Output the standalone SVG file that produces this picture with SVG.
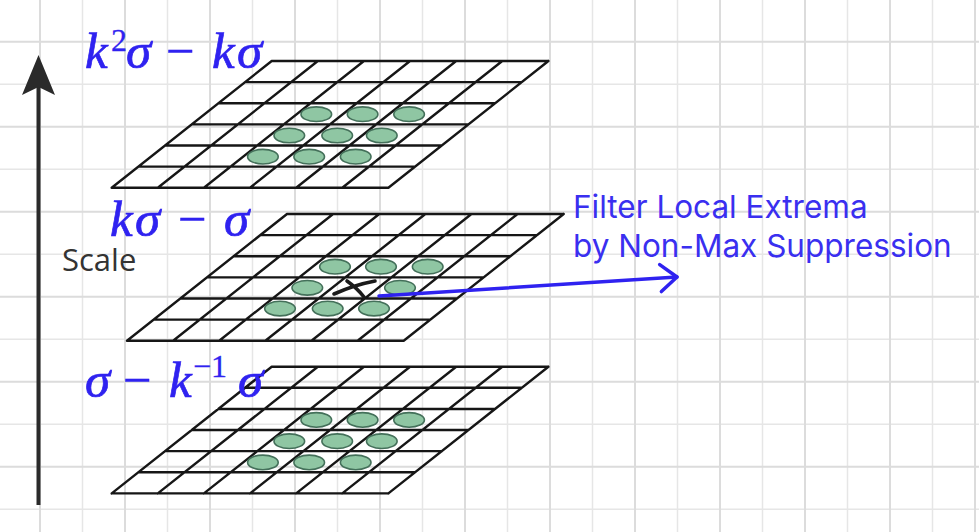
<svg xmlns="http://www.w3.org/2000/svg" xmlns:xlink="http://www.w3.org/1999/xlink" width="979" height="532" viewBox="0 0 979 532">
<style>
.bg{stroke:#e6e6e6;stroke-width:1.5;fill:none}
.bgm{stroke:#dcdcdc;stroke-width:2;fill:none}
.gl{stroke:#161616;stroke-width:2.4;fill:none;stroke-linecap:round}
.dot{fill:#8fc6a3;stroke:#44705a;stroke-width:1.6}
.math{font-family:"Liberation Serif",serif;font-style:italic;fill:#2f22f0;stroke:#2f22f0;stroke-width:0.7;font-size:51px}
.up{font-style:normal;stroke-width:0.3}
.lbl{font-family:Inter,"Liberation Sans",sans-serif;fill:#3a2ff0;font-size:31.5px}
.scale{font-family:"Open Sans","Liberation Sans",sans-serif;fill:#333333;font-size:31px}
.conn{stroke:#2f22f0;stroke-width:3.5;fill:none;stroke-linecap:round;stroke-linejoin:round}
</style>
<defs>
<g id="grid">
<path class="gl" d="M0,0H276.7 M-26.67,21.12H250.03 M-53.33,42.23H223.37 M-80,63.35H196.7 M-106.67,84.47H170.03 M-133.33,105.58H143.37 M-160,126.7H116.7 M0,0L-160,126.7 M46.12,0L-113.88,126.7 M92.23,0L-67.77,126.7 M138.35,0L-21.65,126.7 M184.47,0L24.47,126.7 M230.58,0L70.58,126.7 M276.7,0L116.7,126.7"/>
</g>
<g id="dots">
<ellipse class="dot" cx="44.6" cy="53.2" rx="15.3" ry="7.3"/>
<ellipse class="dot" cx="90.9" cy="53.2" rx="15.3" ry="7.3"/>
<ellipse class="dot" cx="137.4" cy="53.2" rx="15.3" ry="7.3"/>
<ellipse class="dot" cx="17.6" cy="74.5" rx="15.3" ry="7.3"/>
<ellipse class="dot" cx="65.5" cy="74.5" rx="15.3" ry="7.3"/>
<ellipse class="dot" cx="110.1" cy="74.5" rx="15.3" ry="7.3"/>
<ellipse class="dot" cx="-8.8" cy="95.7" rx="15.3" ry="7.3"/>
<ellipse class="dot" cx="37.5" cy="95.7" rx="15.3" ry="7.3"/>
<ellipse class="dot" cx="84" cy="95.7" rx="15.3" ry="7.3"/>
</g>
<marker id="chev" markerUnits="userSpaceOnUse" markerWidth="40" markerHeight="40" viewBox="-20 -20 40 40" refX="0" refY="0" orient="auto" overflow="visible">
<path d="M-16.5,-13.5 L0,0 L-16.5,13.5" stroke="#2f22f0" stroke-width="3.5" fill="none" stroke-linecap="round" stroke-linejoin="round"/>
</marker>
</defs>
<rect width="979" height="532" fill="#ffffff"/>
<g id="background-grid">
<path class="bg" d="M82.5,0V532 M167.5,0V532 M252.5,0V532 M337.5,0V532 M422.5,0V532 M507.5,0V532 M592.5,0V532 M677.5,0V532 M762.5,0V532 M847.5,0V532 M932.5,0V532 M0,84.2H979 M0,169.2H979 M0,254.2H979 M0,339.2H979 M0,424.2H979 M0,509.2H979"/>
<path class="bgm" d="M40,0V532 M125,0V532 M210,0V532 M295,0V532 M380,0V532 M465,0V532 M550,0V532 M635,0V532 M720,0V532 M805,0V532 M890,0V532 M975,0V532 M0,41.7H979 M0,126.7H979 M0,211.7H979 M0,296.7H979 M0,381.7H979 M0,466.7H979"/>
</g>
<g id="scale-axis">
<line x1="38.5" y1="505" x2="38.5" y2="86" stroke="#2a2a2a" stroke-width="4"/>
<polygon points="38.5,55 55,95 38.5,87 22,95" fill="#2a2a2a"/>
<text class="scale" x="62" y="271">Scale</text>
</g>
<g id="layer-top">
<use href="#grid" transform="translate(271.7,61)"/>
<use href="#dots" transform="translate(271.7,61)"/>
<text class="math" y="68"><tspan x="85">k</tspan><tspan class="up" x="111" y="51" font-size="32">2</tspan><tspan x="126" y="68">σ</tspan><tspan class="up" x="166">−</tspan><tspan x="212">k</tspan><tspan x="237">σ</tspan></text>
</g>
<g id="layer-middle">
<use href="#grid" transform="translate(287,214)"/>
<ellipse class="dot" cx="335" cy="266.7" rx="15.3" ry="7.3"/>
<ellipse class="dot" cx="381" cy="266.7" rx="15.3" ry="7.3"/>
<ellipse class="dot" cx="427.7" cy="266.7" rx="15.3" ry="7.3"/>
<ellipse class="dot" cx="307.3" cy="287.8" rx="15.3" ry="7.3"/>
<ellipse class="dot" cx="400" cy="287.8" rx="15.3" ry="7.3"/>
<ellipse class="dot" cx="280" cy="308.6" rx="15.3" ry="7.3"/>
<ellipse class="dot" cx="327.7" cy="308.6" rx="15.3" ry="7.3"/>
<ellipse class="dot" cx="374" cy="308.6" rx="15.3" ry="7.3"/>
<path d="M334,294 Q354,285 375,281 M347,281 Q357,288 364,297" stroke="#1a1a1a" stroke-width="3.6" fill="none" stroke-linecap="round"/>
<text class="math" y="236"><tspan x="110">k</tspan><tspan x="135">σ</tspan><tspan class="up" x="178">−</tspan><tspan x="224">σ</tspan></text>
</g>
<g id="layer-bottom">
<use href="#grid" transform="translate(271.7,366.7)"/>
<use href="#dots" transform="translate(271.7,366.7)"/>
<text class="math" y="397"><tspan x="85">σ</tspan><tspan class="up" x="123">−</tspan><tspan x="169">k</tspan><tspan class="up" x="193" y="377" font-size="32">−1</tspan><tspan x="238" y="397">σ</tspan></text>
</g>
<g id="connectors">
<path class="conn" d="M379,296 L677,277" marker-end="url(#chev)"/>
</g>
<g id="label-nms">
<text class="lbl" x="573" y="218">Filter Local Extrema</text>
<text class="lbl" x="573" y="257">by Non-Max Suppression</text>
</g>
</svg>
